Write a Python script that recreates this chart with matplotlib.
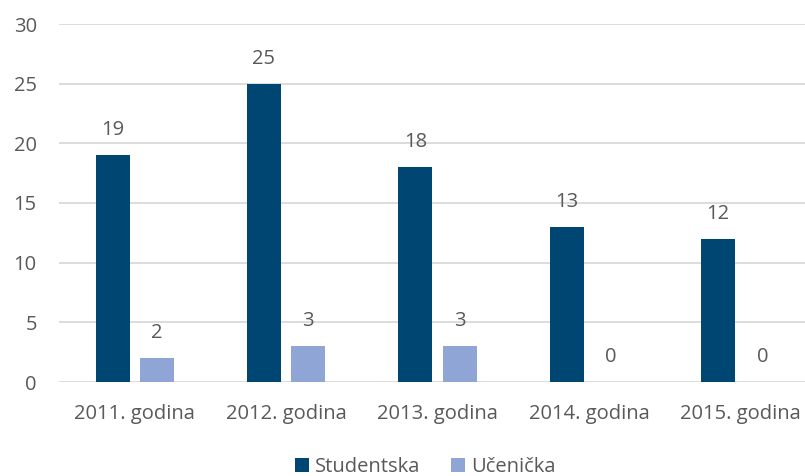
import numpy as np
import matplotlib.pyplot as plt

years = ['2011. godina', '2012. godina', '2013. godina', '2014. godina', '2015. godina']
studentska = [19, 25, 18, 13, 12]
ucenicka = [2, 3, 3, 0, 0]

dark = '#004673'
light = '#8fa5d6'
txt = '#595959'

plt.rcParams['font.family'] = ['Open Sans', 'DejaVu Sans']

fig = plt.figure(figsize=(8.05, 4.76), dpi=100)
# plot area runs a little past the right edge, as in the original
ax = fig.add_axes([59 / 805, 94 / 476, 757 / 805, 358 / 476])

x = np.arange(len(years))
w = 0.225
off = 0.146
b1 = ax.bar(x - off, studentska, w, color=dark, label='Studentska', zorder=3)
b2 = ax.bar(x + off, ucenicka, w, color=light, label='Učenička', zorder=3)

for bars in (b1, b2):
    for r in bars:
        ax.annotate(str(int(r.get_height())), (r.get_x() + r.get_width() / 2, r.get_height()),
                    xytext=(0, 18), textcoords='offset points', ha='center', va='center',
                    fontsize=14.5, color=txt)

ax.set_xlim(-0.5, 4.5)
ax.set_ylim(0, 30)
ax.set_yticks(range(0, 31, 5))
ax.set_xticks(x)
ax.set_xticklabels(years)
ax.tick_params(axis='both', length=0, labelsize=14.5, labelcolor=txt)
ax.tick_params(axis='y', pad=16)
ax.tick_params(axis='x', pad=16)
ax.grid(axis='y', color='#d9d9d9', linewidth=1.3, zorder=0)
for s in ax.spines.values():
    s.set_visible(False)

fig.legend(loc='center', bbox_to_anchor=(425 / 805, 9 / 476), ncol=2, frameon=False,
           fontsize=14.5, labelcolor=txt, handlelength=0.7, handleheight=0.7,
           handletextpad=0.3, columnspacing=1.5)

fig.savefig('out.png', dpi=100)
